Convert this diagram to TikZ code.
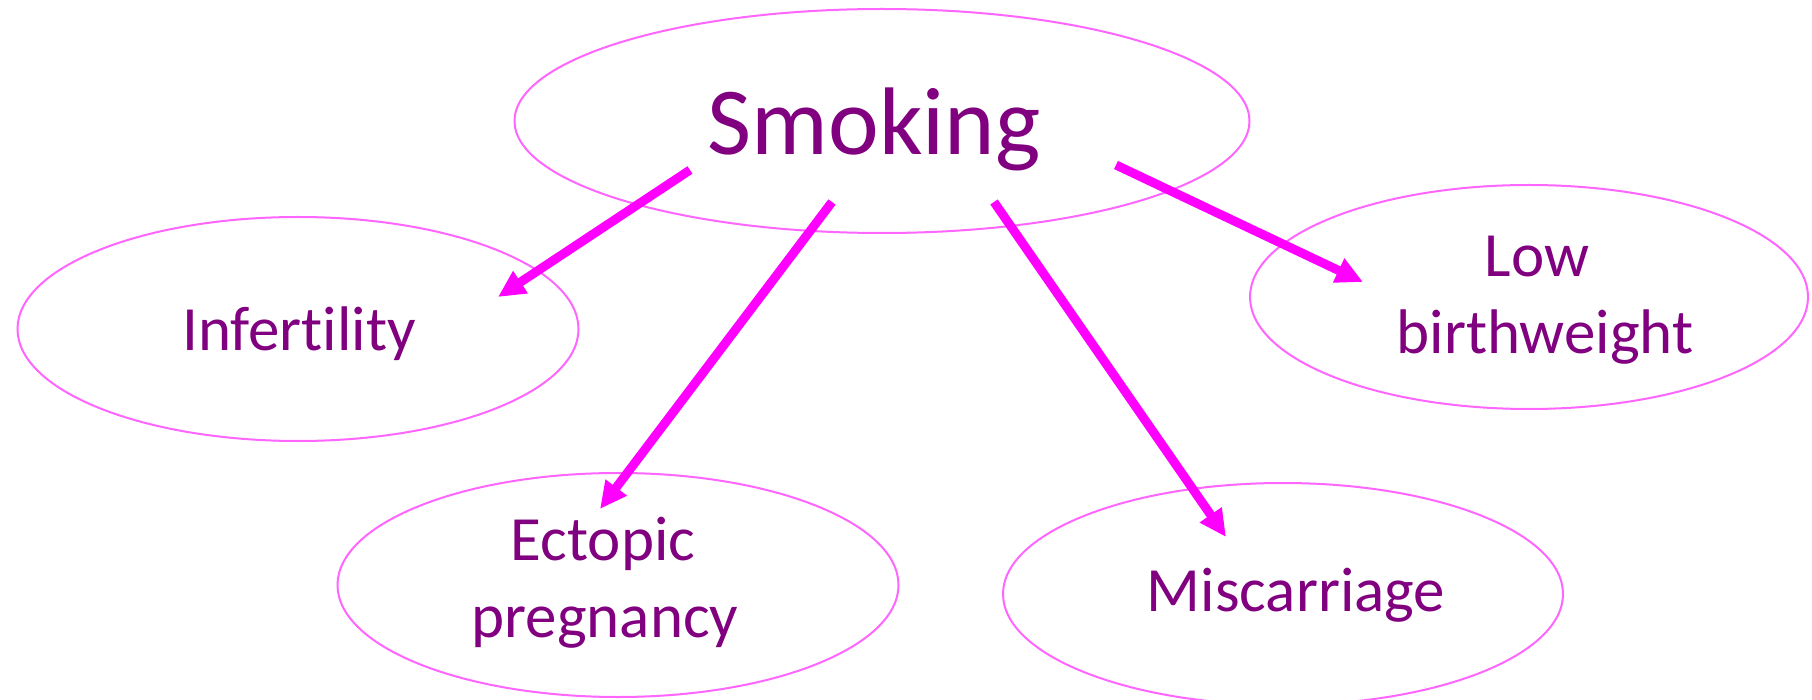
\documentclass[tikz,border=0pt]{standalone}
\usepackage{fontspec}
\setmainfont[Ligatures=NoCommon]{Carlito}
\usetikzlibrary{shapes.geometric,arrows.meta}
\definecolor{txtpurple}{HTML}{800080}
\definecolor{ellpink}{HTML}{FF66FF}
\definecolor{arrmag}{HTML}{FF00FF}
\begin{document}
\begin{tikzpicture}[x=1pt,y=-1pt,
  oval/.style={ellipse,draw=ellpink,line width=2pt,inner sep=0pt,minimum height=224pt},
  lbl/.style={text=txtpurple,font=\fontsize{63}{77}\selectfont,inner sep=0pt,anchor=base,align=center},
  biglbl/.style={text=txtpurple,font=\fontsize{96}{116}\selectfont,inner sep=0pt,anchor=base},
  link/.style={draw=arrmag,line width=9pt,-{Triangle[length=27pt,width=25pt]}}]
\useasboundingbox (0,0) rectangle (1812,700);
\node[oval,minimum width=735pt] (smokeE) at (882,121) {};
\node[oval,minimum width=561pt] (infE) at (298,329) {};
\node[oval,minimum width=558pt] (lowE) at (1529,297) {};
\node[oval,minimum width=561pt] (ectE) at (618,585) {};
\node[oval,minimum width=560pt,minimum height=222pt] (misE) at (1283,594) {};
\node[biglbl] (smoke) at (874,155) {Smoking};
\node[lbl] (inf) at (299,351) {Infertility};
\node[lbl] (low1) at (1537,277) {Low};
\node[lbl] (low2) at (1545,354) {birthweight};
\node[lbl] (ect1) at (603,560) {Ectopic};
\node[lbl] (ect2) at (605,637) {pregnancy};
\node[lbl] (mis) at (1296,611) {Miscarriage};
\coordinate (a1s) at (690,170);
\coordinate (a1e) at (498,297);
\coordinate (a2s) at (832,202);
\coordinate (a2e) at (600,509);
\coordinate (a3s) at (994,202);
\coordinate (a3e) at (1226,537);
\coordinate (a4s) at (1116,165);
\coordinate (a4e) at (1363,282);
\draw[link] (a1s) -- (a1e);
\draw[link] (a2s) -- (a2e);
\draw[link] (a3s) -- (a3e);
\draw[link] (a4s) -- (a4e);
\end{tikzpicture}
\end{document}
